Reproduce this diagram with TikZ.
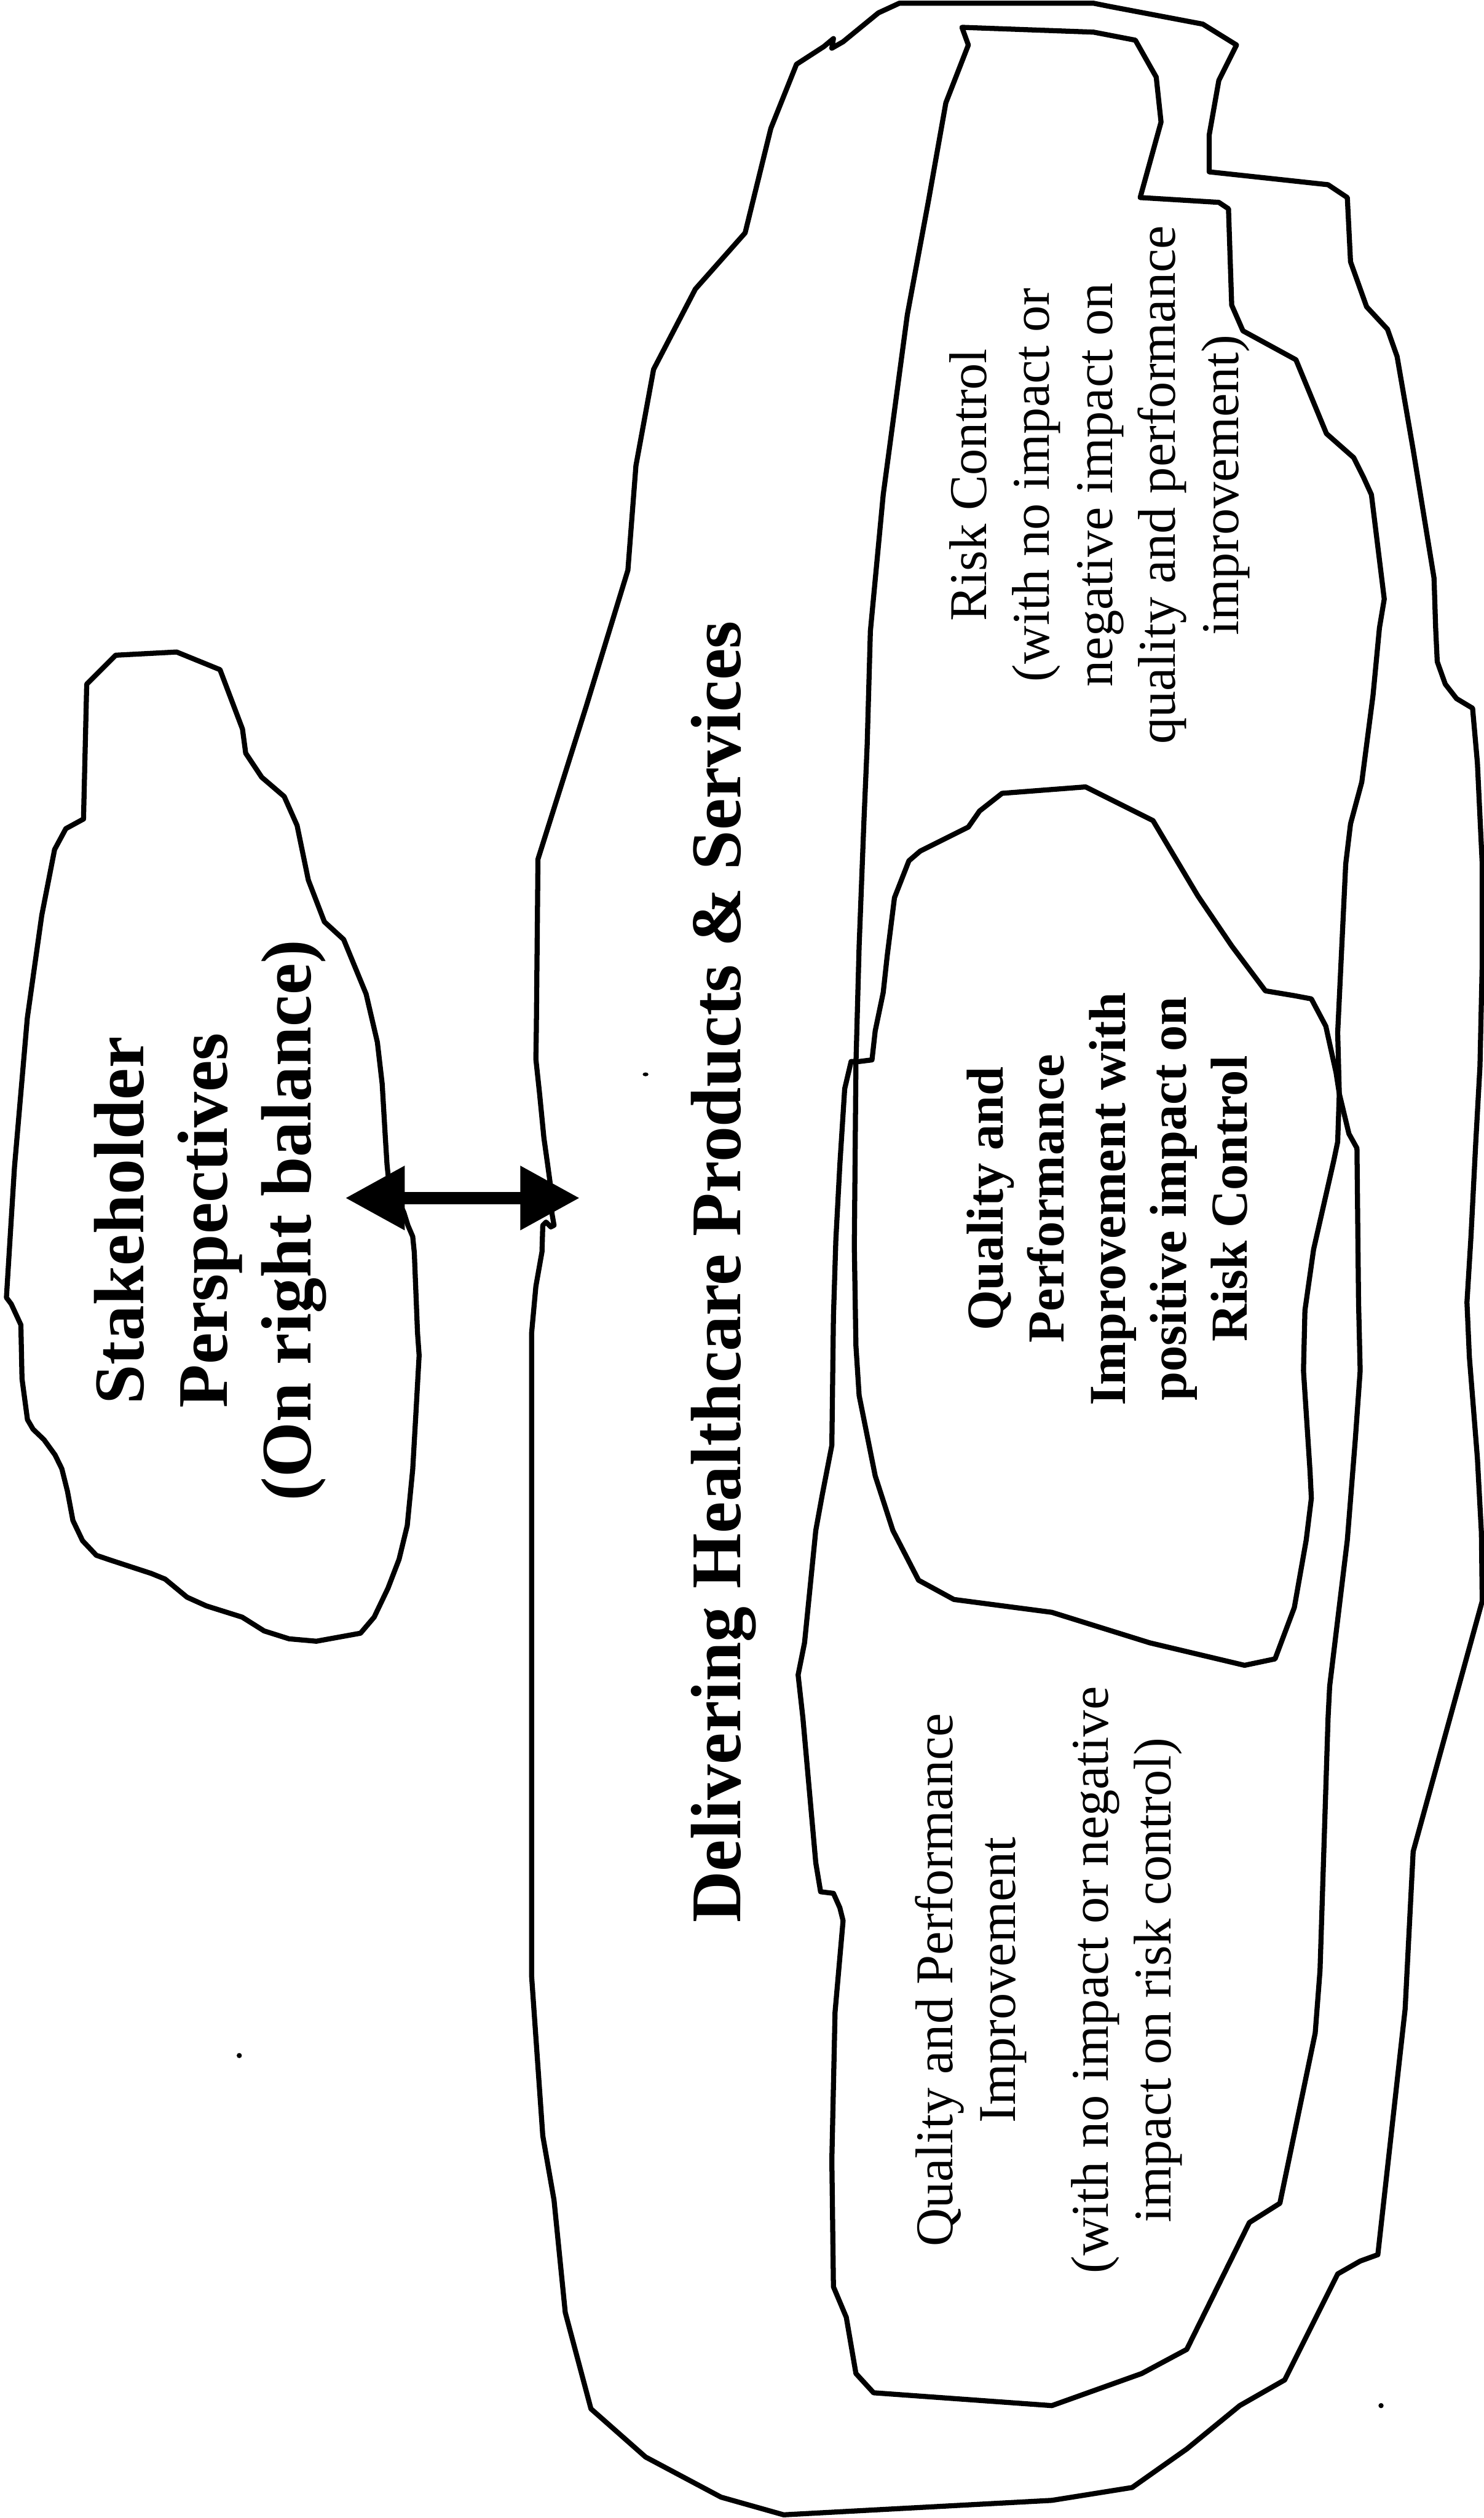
\documentclass[tikz,border=0pt]{standalone}
\usepackage{fontspec}
\setmainfont{Liberation Serif}
\usetikzlibrary{arrows.meta}
\begin{document}
\begin{tikzpicture}[x=0.01cm, y=-0.01cm,
  outline/.style={draw=black, line width=0.9pt, line join=round, line cap=round},
  twoway/.style={line width=2.2pt,
    {Triangle[length=0.37cm,width=0.38cm]}-{Triangle[length=0.37cm,width=0.38cm]}},
  speck/.style={fill=black, draw=none},
  biglabel/.style={rotate=90, inner sep=0pt, align=center,
    font=\fontsize{12.6}{14.8}\selectfont\bfseries},
  boldlabel/.style={rotate=90, inner sep=0pt, align=center,
    font=\fontsize{9.2}{10.8}\selectfont\bfseries},
  plainlabel/.style={rotate=90, inner sep=0pt, align=center,
    font=\fontsize{9.4}{11.15}\selectfont}]

\fill[white] (0,0) rectangle (924,1568);
\useasboundingbox (0,0) rectangle (924,1568);

% stakeholder cloud
\draw[outline] (54,426) -- (72,408) -- (110,406) -- (137,417) -- (151,454) -- (153,469)
  -- (163,484) -- (177,496) -- (185,514) -- (192,548) -- (202,574) -- (214,585)
  -- (228,619) -- (235,649) -- (238,675) -- (240,709) -- (241,725) -- (242,735)
  -- (251.5,755) -- (254,763) -- (257,770) -- (258,780) -- (260,830) -- (261,844)
  -- (259,880) -- (257,915) -- (253.6,950) -- (248.5,971) -- (241.6,989) -- (233,1007)
  -- (224.5,1017) -- (197,1022) -- (180,1020.5) -- (164.5,1015.6) -- (150.8,1007)
  -- (128.5,1000) -- (116.5,994.6) -- (102.8,983.3) -- (94.2,979.8) -- (68.5,971.4)
  -- (60,968.5) -- (51.4,959.4) -- (45.4,946.8) -- (42,928.6) -- (38.5,914.6)
  -- (34.3,906) -- (27.4,896.5) -- (20.6,890) -- (17.1,884) -- (13.7,858.5)
  -- (13,825) -- (7,812) -- (4,808) -- (9,727) -- (17,634) -- (26,570) -- (34,529)
  -- (41,516) -- (52,510) -- cycle;

% outer cloud: delivering products and services
\draw[outline] (496,40) -- (513,29) -- (519,24) -- (518,30) -- (525,26) -- (547,8)
  -- (560,2) -- (681,2) -- (691,4) -- (749,15) -- (770,28) -- (759,50) -- (753,84)
  -- (753,107) -- (827,115) -- (839,123) -- (841,163) -- (851,191) -- (864,205)
  -- (870,222) -- (880,280) -- (893,360) -- (894,391) -- (895,412) -- (900,426)
  -- (907,435) -- (917,441) -- (920,475) -- (923,538) -- (923,600) -- (921.6,664)
  -- (919,711) -- (916,770) -- (913.5,811) -- (915,845) -- (920,908) -- (922.5,954.5)
  -- (923,997) -- (880,1153) -- (875,1251) -- (858,1404) -- (847,1408) -- (833,1416)
  -- (800,1482) -- (772,1498) -- (739,1525) -- (705,1549) -- (655,1557) -- (488,1566)
  -- (449,1555) -- (402,1530) -- (368,1500) -- (352,1440) -- (345,1370) -- (338,1330)
  -- (331,1230) -- (331,1000) -- (331,830.5) -- (333.7,801) -- (337.5,779.5)
  -- (338,763) -- (340,761) -- (343,764) -- (345,763) -- (343.7,755.5) -- (342.5,736)
  -- (341,725) -- (338.7,708.6) -- (336,681) -- (333.7,659.5) -- (334,640) -- (335,535)
  -- (365,440) -- (391,355) -- (396,290) -- (407,230) -- (433,180) -- (464,145)
  -- (480,80) -- cycle;

% risk control region
\draw[outline] (599,17) -- (681,20) -- (707,25) -- (720,48) -- (723,76) -- (710,123)
  -- (759,126) -- (765,130) -- (767,190) -- (774,206) -- (807,224) -- (826,270)
  -- (843,285) -- (849,297) -- (854,308) -- (862,373) -- (859,391) -- (855,433)
  -- (848,487) -- (841,513) -- (838,538) -- (835,601) -- (833,643) -- (834,681)
  -- (833,711) -- (830.5,723) -- (818,778) -- (812.6,816) -- (811.7,853.5)
  -- (815.8,916.5) -- (816.6,933) -- (813.4,959) -- (806,1001) -- (794,1033)
  -- (775,1037) -- (716,1023) -- (655,1004) -- (594,996) -- (572,984) -- (556,953)
  -- (545,919) -- (535,869) -- (533,838) -- (532,776) -- (533,663) -- (535,589)
  -- (538,511) -- (540,464) -- (542,393) -- (550,308) -- (565,196) -- (578,126)
  -- (589,64) -- (603,28) -- cycle;

% quality and performance improvement region
\draw[outline] (530,661) -- (535,661) -- (543,660) -- (545,642) -- (550,618)
  -- (552.5,595) -- (557,559) -- (566,536) -- (573,530) -- (603,515) -- (610,505)
  -- (624,494) -- (676,490) -- (718,511) -- (746,558) -- (767,589) -- (788,617)
  -- (806,620) -- (816.6,622) -- (825.6,639) -- (832,668) -- (834,681) -- (840,706)
  -- (845,715) -- (846,811) -- (847,853.5) -- (844,896) -- (839,959) -- (828,1050)
  -- (827,1070) -- (822,1227) -- (819,1266) -- (797,1372) -- (778,1384) -- (739,1463)
  -- (711,1478) -- (655,1498) -- (544,1490) -- (533,1478) -- (527,1443) -- (519,1424)
  -- (518,1345) -- (520,1253) -- (525,1196) -- (523,1188) -- (519,1179) -- (511,1178)
  -- (508,1160) -- (500,1070) -- (497,1043) -- (501,1023) -- (508,953) -- (512,931)
  -- (518,900) -- (519,820) -- (520.5,772) -- (523,725) -- (526,678) -- cycle;

% specks
\fill[speck] (149,1280) circle (1.6);
\fill[speck] (860,1498) circle (1.6);
\fill[speck] (402,669) ellipse (1.8 and 1.2);

% labels
\node[biglabel] (stakeholder) at (131,760) {Stakeholder\\Perspectives\\(On right balance)};
\node[biglabel, anchor=base] (delivering) at (461,792) {Delivering Healthcare Products \& Services};
\node[plainlabel] (riskonly) at (684.7,302) {Risk Control\\(with no impact or\\negative impact on\\quality and performance\\improvement)};
\node[boldlabel] (overlap) at (689.5,746.5) {Quality and\\Performance\\Improvement with\\positive impact on\\Risk Control};
\node[plainlabel] (qualityonly) at (653,1233) {Quality and Performance\\Improvement\\[5.3pt](with no impact or negative\\impact on risk control)};

% two-way link between the stakeholder cloud and the delivery cloud
\coordinate (linkL) at (215,746);
\coordinate (linkR) at (361,746);
\draw[twoway] (linkL) -- (linkR);

\end{tikzpicture}
\end{document}
